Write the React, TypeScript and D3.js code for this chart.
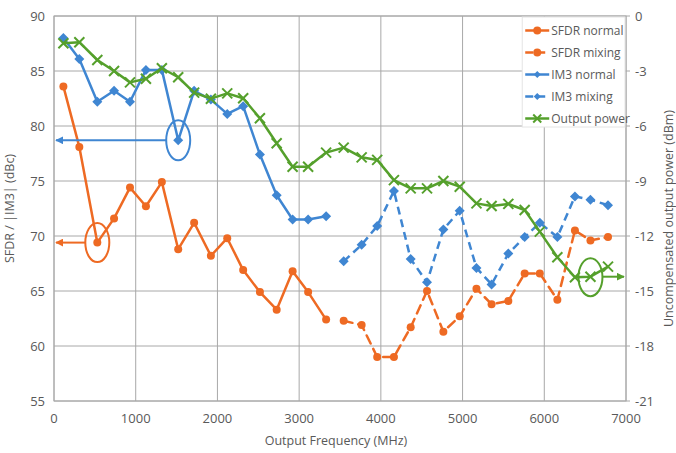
import React from "react";
import * as d3 from "d3";

// Frequencies of the measurement points (MHz)
const freqs = [
  115, 310, 530, 735, 930, 1125, 1320, 1520, 1715, 1920, 2120, 2315, 2520,
  2725, 2920, 3110, 3330, 3545, 3765, 3955, 4160, 4365, 4565, 4765, 4965,
  5170, 5355, 5560, 5760, 5945, 6160, 6375, 6565, 6780,
];

// normal mode: first 17 points, mixing mode: the rest
const sfdrNormal = [
  83.6, 78.1, 69.4, 71.6, 74.4, 72.7, 74.9, 68.8, 71.2, 68.2, 69.8, 66.9,
  64.9, 63.3, 66.8, 64.9, 62.4,
];
const sfdrMixing = [
  62.3, 61.9, 59.0, 59.0, 61.7, 65.0, 61.3, 62.7, 65.2, 63.8, 64.1, 66.6,
  66.6, 64.2, 70.5, 69.6, 69.9,
];
const im3Normal = [
  88.0, 86.1, 82.2, 83.2, 82.2, 85.1, 85.1, 78.7, 83.2, 82.4, 81.1, 81.8,
  77.4, 73.7, 71.5, 71.5, 71.8,
];
const im3Mixing = [
  67.7, 69.2, 70.9, 74.1, 67.9, 65.8, 70.6, 72.3, 67.1, 65.6, 68.4, 69.9,
  71.2, 69.9, 73.6, 73.3, 72.8,
];
const outputPower = [
  -1.49, -1.43, -2.4, -3.0, -3.62, -3.42, -2.85, -3.34, -4.18, -4.51, -4.22,
  -4.49, -5.58, -6.94, -8.22, -8.22, -7.45, -7.18, -7.71, -7.85, -8.95, -9.4,
  -9.4, -9.0, -9.31, -10.22, -10.36, -10.25, -10.58, -11.76, -13.16, -14.25,
  -14.22, -13.67,
];

const xTicks = [0, 1000, 2000, 3000, 4000, 5000, 6000, 7000];
const leftTicks = [55, 60, 65, 70, 75, 80, 85, 90];
const rightTicks = [-21, -18, -15, -12, -9, -6, -3, 0];

const ORANGE = "#EE6A23";
const BLUE = "#3F86D2";
const GREEN = "#55A02C";
const GRID = "#A8A8A8";
const TEXT = "#595959";
const FONT = "'Open Sans', 'Liberation Sans', sans-serif";

const margin = { top: 16, right: 50, bottom: 52, left: 54 };
const W = 676;
const H = 453;
const width = W - margin.left - margin.right;
const height = H - margin.top - margin.bottom;

const App = () => {
  const x = d3.scaleLinear().domain([0, 7000]).range([0, width]);
  const yL = d3.scaleLinear().domain([55, 90]).range([height, 0]);
  const yR = d3.scaleLinear().domain([-21, 0]).range([height, 0]);

  const nN = sfdrNormal.length;
  const normalF = freqs.slice(0, nN);
  const mixF = freqs.slice(nN);

  const lineL = d3
    .line<[number, number]>()
    .x((d) => x(d[0]))
    .y((d) => yL(d[1]));
  const lineR = d3
    .line<[number, number]>()
    .x((d) => x(d[0]))
    .y((d) => yR(d[1]));

  const zip = (f: number[], v: number[]) =>
    v.map((d, i) => [f[i], d] as [number, number]);

  const sN = zip(normalF, sfdrNormal);
  const sM = zip(mixF, sfdrMixing);
  const iN = zip(normalF, im3Normal);
  const iM = zip(mixF, im3Mixing);
  const pw = zip(freqs, outputPower);

  const diamond = (cx: number, cy: number, r: number) =>
    `M${cx},${cy - r}L${cx + r},${cy}L${cx},${cy + r}L${cx - r},${cy}Z`;
  const cross = (cx: number, cy: number, r: number) =>
    `M${cx - r},${cy - r}L${cx + r},${cy + r}M${cx - r},${cy + r}L${cx + r},${cy - r}`;

  // annotated points
  const blueMark = iN[7];
  const orangeMark = sN[2];
  const greenMark = pw[32];

  const legendItems = [
    { label: "SFDR normal", color: ORANGE, dash: false, marker: "circle" },
    { label: "SFDR mixing", color: ORANGE, dash: true, marker: "circle" },
    { label: "IM3 normal", color: BLUE, dash: false, marker: "diamond" },
    { label: "IM3 mixing", color: BLUE, dash: true, marker: "diamond" },
    { label: "Output power", color: GREEN, dash: false, marker: "cross" },
  ];

  const legendX = x(5730);
  const legendY = 0;

  return (
    <svg
      width={W}
      height={H}
      style={{ position: "absolute", left: 0, top: 0, background: "#fff" }}
      fontFamily={FONT}
    >
      <defs>
        <marker id="arrBlue" viewBox="0 0 10 10" refX="9" refY="5" markerWidth="4" markerHeight="4" orient="auto">
          <path d="M0,0L10,5L0,10Z" fill={BLUE} />
        </marker>
        <marker id="arrOrange" viewBox="0 0 10 10" refX="9" refY="5" markerWidth="4" markerHeight="4" orient="auto">
          <path d="M0,0L10,5L0,10Z" fill={ORANGE} />
        </marker>
        <marker id="arrGreen" viewBox="0 0 10 10" refX="9" refY="5" markerWidth="4" markerHeight="4" orient="auto">
          <path d="M0,0L10,5L0,10Z" fill={GREEN} />
        </marker>
      </defs>
      <g transform={`translate(${margin.left},${margin.top})`}>
        {/* grid */}
        {leftTicks.map((t) => (
          <line key={"h" + t} x1={0} x2={width} y1={yL(t)} y2={yL(t)} stroke={GRID} strokeWidth={1} />
        ))}
        {xTicks.map((t) => (
          <line key={"v" + t} x1={x(t)} x2={x(t)} y1={0} y2={height} stroke={GRID} strokeWidth={1} />
        ))}
        {rightTicks.map((t) => (
          <line key={"rt" + t} x1={width} x2={width + 4} y1={yR(t)} y2={yR(t)} stroke={GRID} />
        ))}

        {/* tick labels */}
        {leftTicks.map((t) => (
          <text key={"lt" + t} x={-9} y={yL(t)} dy="0.35em" textAnchor="end" fontSize={13} fill={TEXT}>
            {t}
          </text>
        ))}
        {rightTicks.map((t) => (
          <text key={"rl" + t} x={width + 9} y={yR(t)} dy="0.35em" textAnchor="start" fontSize={13} fill={TEXT}>
            {t}
          </text>
        ))}
        {xTicks.map((t) => (
          <text key={"xl" + t} x={x(t)} y={height + 22} textAnchor="middle" fontSize={13} fill={TEXT}>
            {t}
          </text>
        ))}

        {/* axis titles */}
        <text
          transform={`translate(${-40},${height / 2}) rotate(-90)`}
          textAnchor="middle"
          fontSize={12.5}
          fill={TEXT}
        >
          SFDR / |IM3| (dBc)
        </text>
        <text
          transform={`translate(${width + 47},${height / 2 + 10}) rotate(-90)`}
          textAnchor="middle"
          fontSize={12.5}
          fill={TEXT}
        >
          Uncompensated output power (dBm)
        </text>
        <text x={width / 2 - 4} y={height + 44} textAnchor="middle" fontSize={12.5} fill={TEXT}>
          Output Frequency (MHz)
        </text>

        {/* SFDR */}
        <path d={lineL(sN) || ""} fill="none" stroke={ORANGE} strokeWidth={2.5} strokeLinejoin="round" />
        <path d={lineL(sM) || ""} fill="none" stroke={ORANGE} strokeWidth={2.5} strokeDasharray="9,6" strokeLinecap="round" />
        {sN.concat(sM).map((d, i) => (
          <circle key={"s" + i} cx={x(d[0])} cy={yL(d[1])} r={4} fill={ORANGE} />
        ))}

        {/* IM3 */}
        <path d={lineL(iN) || ""} fill="none" stroke={BLUE} strokeWidth={2.5} strokeLinejoin="round" />
        <path d={lineL(iM) || ""} fill="none" stroke={BLUE} strokeWidth={2.5} strokeDasharray="8,5" />
        {iN.concat(iM).map((d, i) => (
          <path key={"i" + i} d={diamond(x(d[0]), yL(d[1]), 5)} fill={BLUE} />
        ))}

        {/* Output power */}
        <path d={lineR(pw) || ""} fill="none" stroke={GREEN} strokeWidth={2.5} strokeLinejoin="round" />
        {pw.map((d, i) => (
          <path key={"p" + i} d={cross(x(d[0]), yR(d[1]), 5)} stroke={GREEN} strokeWidth={2} fill="none" />
        ))}

        {/* annotations */}
        <ellipse cx={x(blueMark[0])} cy={yL(blueMark[1])} rx={12} ry={20} fill="none" stroke={BLUE} strokeWidth={2} />
        <line
          x1={x(blueMark[0]) - 12}
          x2={2}
          y1={yL(blueMark[1])}
          y2={yL(blueMark[1])}
          stroke={BLUE}
          strokeWidth={2}
          markerEnd="url(#arrBlue)"
        />
        <ellipse cx={x(orangeMark[0])} cy={yL(orangeMark[1])} rx={12} ry={19.5} fill="none" stroke={ORANGE} strokeWidth={2} />
        <line
          x1={x(orangeMark[0]) - 12}
          x2={2}
          y1={yL(orangeMark[1])}
          y2={yL(orangeMark[1])}
          stroke={ORANGE}
          strokeWidth={2}
          markerEnd="url(#arrOrange)"
        />
        <ellipse cx={x(greenMark[0])} cy={yR(greenMark[1]) + 0.5} rx={12} ry={19} fill="none" stroke={GREEN} strokeWidth={2} />
        <line
          x1={x(greenMark[0]) + 12}
          x2={width - 2}
          y1={yR(greenMark[1])}
          y2={yR(greenMark[1])}
          stroke={GREEN}
          strokeWidth={2}
          markerEnd="url(#arrGreen)"
        />

        {/* plot border */}
        <rect x={0} y={0} width={width} height={height} fill="none" stroke={GRID} strokeWidth={1} />

        {/* legend */}
        <g transform={`translate(${legendX},${legendY})`}>
          <rect x={0} y={1} width={width - legendX - 1} height={110} fill="#fff" stroke="#E4E4E4" />
          {legendItems.map((it, i) => {
            const cy = 14.5 + i * 22;
            return (
              <g key={it.label}>
                <line
                  x1={3}
                  x2={27}
                  y1={cy}
                  y2={cy}
                  stroke={it.color}
                  strokeWidth={2.5}
                  strokeDasharray={it.dash ? "8,4" : undefined}
                />
                {it.marker === "circle" && <circle cx={15} cy={cy} r={4} fill={it.color} />}
                {it.marker === "diamond" && <path d={diamond(15, cy, 3.5)} fill={it.color} />}
                {it.marker === "cross" && (
                  <path d={cross(15, cy, 4)} stroke={it.color} strokeWidth={2} fill="none" />
                )}
                <text x={29} y={cy} dy="0.35em" fontSize={12} fill={TEXT}>
                  {it.label}
                </text>
              </g>
            );
          })}
        </g>
      </g>
    </svg>
  );
};

export default App;
